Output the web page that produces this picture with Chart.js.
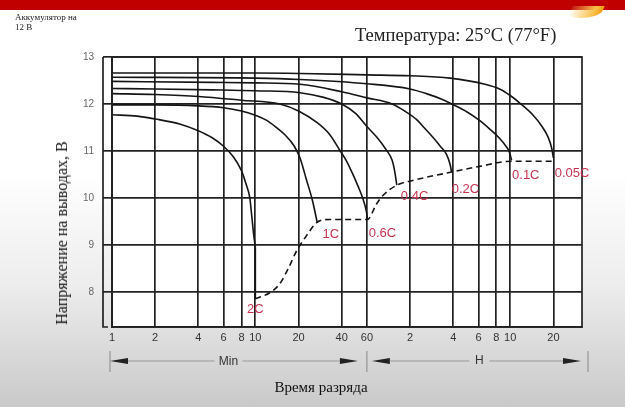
<!DOCTYPE html>
<html><head><meta charset="utf-8">
<script src="https://cdn.jsdelivr.net/npm/chart.js@4.4.0/dist/chart.umd.min.js"></script>
<style>
html,body{margin:0;padding:0;}
body{width:625px;height:407px;overflow:hidden;position:relative;
background:linear-gradient(180deg,#fff 0%,#fff 42%,#ededed 70%,#c9c9c9 100%);}
#band{position:absolute;left:0;top:0;width:625px;height:10px;background:#c00000;}
#swoosh{position:absolute;left:570px;top:6px;width:32px;height:12px;border-radius:0 0 60% 40%;
background:linear-gradient(90deg,rgba(255,240,190,0.1),#f8c04a 75%,#f39c12);transform:skewX(-25deg);}
#wrap{position:absolute;left:0;top:0;width:625px;height:407px;}
.hdr1{position:absolute;left:15px;top:12px;font:9px/10px "Liberation Serif",serif;color:#222;}
.hdr2{position:absolute;left:355px;top:25px;font:18.5px "Liberation Serif",serif;color:#222;white-space:nowrap;}
.ytitle{position:absolute;left:62px;top:233px;transform:translate(-50%,-50%) rotate(-90deg);font:16px "Liberation Serif",serif;color:#111;white-space:nowrap;}
.xtitle{position:absolute;left:321px;top:387px;transform:translate(-50%,-50%);font:15px "Liberation Serif",serif;color:#111;white-space:nowrap;}
</style></head>
<body>
<div id="band"></div>
<div id="swoosh"></div>
<div id="wrap"><canvas id="c" width="625" height="407"></canvas></div>
<div class="hdr1">Аккумулятор на<br>12 В</div>
<div class="hdr2">Температура: 25°C (77°F)</div>
<div class="ytitle">Напряжение на выводах, В</div>
<div class="xtitle">Время разряда</div>
<script>
// X axis ticks (discharge time in minutes) and their labels
const tickValues = [1,2,4,6,8,10,20,40,60,120,240,360,480,600,1200];
const tickLabels = ['1','2','4','6','8','10','20','40','60','2','4','6','8','10','20'];
const voltTicks = [8,9,10,11,12,13];

// Discharge curves: time (min) / voltage (V)
const t2C  = [1,1.5,2,3,4,5,6,7,8,8.6,9.15,9.45,9.75,10];
const v2C  = [11.77,11.74,11.68,11.57,11.43,11.28,11.1,10.88,10.58,10.3,10.0,9.6,9.2,8.95];
const t2Cdrop = [10,10];
const v2Cdrop = [8.95,7.85];
const t1C  = [1,2,4,6,8,10,12,14,16,18.7,20.5,22.8,25,27];
const v1C  = [11.98,11.98,11.96,11.92,11.85,11.76,11.65,11.5,11.35,11.1,10.85,10.37,9.95,9.48];
const t06C = [1,2,4,8,14.8,20,27,33,38.7,43,47.6,52,56,59.6,60.5];
const v06C = [12.22,12.2,12.16,12.08,12.0,11.85,11.6,11.35,11.02,10.8,10.52,10.25,10.0,9.7,9.54];
const t04C = [1,2,5,10,20.5,30,40,50,60,70,82,90,94,97];
const v04C = [12.33,12.32,12.3,12.28,12.24,12.14,12.0,11.8,11.52,11.3,11.02,10.8,10.55,10.27];
const t02C = [1,5,10,20.5,40,60,90,110,133,150,172,195,215,228,234];
const v02C = [12.48,12.46,12.45,12.42,12.26,12.13,12.0,11.85,11.67,11.5,11.3,11.1,10.93,10.72,10.55];
const t01C = [1,10,20.5,60,120,156,200,234,300,366,430,505,560,591,613];
const v01C = [12.57,12.55,12.52,12.43,12.32,12.22,12.1,12.0,11.83,11.65,11.47,11.27,11.1,10.98,10.8];
const t005C = [1,10,20.5,60,120,228,400,505,600,700,855,1000,1100,1170,1200];
const v005C = [12.66,12.66,12.65,12.62,12.6,12.55,12.42,12.32,12.18,12.02,11.78,11.52,11.3,11.05,10.85];
// End-of-discharge (dashed) line
const tEnd = [10,12.6,14.8,17,19.4,22.7,27,33,45,60.5,70,77,97,125,234,366,613,1230];
const vEnd = [7.85,7.98,8.17,8.5,8.87,9.19,9.48,9.54,9.54,9.54,9.87,10.04,10.27,10.37,10.55,10.67,10.78,10.78];

// Rate labels
const rateNames = ['2C','1C','0.6C','0.4C','0.2C','0.1C','0.05C'];
const labelT = [10, 33.6, 77, 129, 292, 770, 1620];
const labelV = [7.62, 9.22, 9.24, 10.04, 10.17, 10.48, 10.52];

const xy = (ts, vs) => ts.map((t, i) => ({x: t, y: vs[i]}));
const curve = (ts, vs) => ({data: xy(ts, vs), borderColor:'#151515', borderWidth:1.6, pointRadius:0,
  cubicInterpolationMode:'monotone', fill:false});

const datasets = [
  curve(t2C, v2C), Object.assign(curve(t2Cdrop, v2Cdrop), {cubicInterpolationMode:'default', tension:0}),
  curve(t1C, v1C), curve(t06C, v06C), curve(t04C, v04C),
  curve(t02C, v02C), curve(t01C, v01C), curve(t005C, v005C),
  Object.assign(curve(tEnd, vEnd), {borderDash:[6,4]})
];

const deco = {
  id:'deco',
  beforeDraw(chart){
    const {ctx, chartArea:a} = chart;
    ctx.save(); ctx.fillStyle = '#fff';
    ctx.fillRect(a.left, a.top, a.right-a.left, a.bottom-a.top);
    ctx.restore();
  },
  afterDraw(chart){
    const {ctx, chartArea:a, scales:{x, y}} = chart;
    ctx.save();
    // plot border
    ctx.strokeStyle = '#222'; ctx.lineWidth = 1.7;
    ctx.strokeRect(a.left, a.top, a.right-a.left, a.bottom-a.top);
    // y bracket line
    const bx = a.left - 9;
    ctx.beginPath(); ctx.moveTo(bx, y.getPixelForValue(13)); ctx.lineTo(bx, a.bottom);
    ctx.lineTo(bx+5, a.bottom); ctx.stroke();
    // rate labels
    ctx.fillStyle = '#c6334f'; ctx.font = '13px "Liberation Sans", Arial, sans-serif';
    ctx.textAlign = 'center'; ctx.textBaseline = 'middle';
    rateNames.forEach((n, i) => ctx.fillText(n, x.getPixelForValue(labelT[i]), y.getPixelForValue(labelV[i])));
    // time unit arrows
    const ay = a.bottom + 34;
    const p1 = x.getPixelForValue(1) - 2, p60 = x.getPixelForValue(60), pEnd = a.right + 6;
    ctx.strokeStyle = '#888'; ctx.lineWidth = 1;
    [p1, p60, pEnd].forEach(px => { ctx.beginPath(); ctx.moveTo(px, ay-10); ctx.lineTo(px, ay+11); ctx.stroke(); });
    const arrowL = (x0) => { ctx.beginPath(); ctx.moveTo(x0, ay); ctx.lineTo(x0+18, ay-3); ctx.lineTo(x0+18, ay+3); ctx.closePath(); ctx.fill(); };
    const arrowR = (x0) => { ctx.beginPath(); ctx.moveTo(x0, ay); ctx.lineTo(x0-18, ay-3); ctx.lineTo(x0-18, ay+3); ctx.closePath(); ctx.fill(); };
    ctx.fillStyle = '#222';
    arrowL(p1); arrowR(p60 - 9); arrowL(p60 + 5); arrowR(pEnd - 7);
    ctx.strokeStyle = '#999';
    const seg = (a1, a2) => { ctx.beginPath(); ctx.moveTo(a1, ay); ctx.lineTo(a2, ay); ctx.stroke(); };
    const minX = (p1 + p60) / 2 - 10, hX = (p60 + pEnd) / 2 + 2;
    seg(p1+18, minX-14); seg(minX+14, p60-27);
    seg(p60+23, hX-10); seg(hX+10, pEnd-25);
    ctx.fillStyle = '#333'; ctx.font = '12px "Liberation Sans", Arial, sans-serif';
    ctx.textAlign = 'center'; ctx.textBaseline = 'middle';
    ctx.fillText('Min', minX, ay + 1); ctx.fillText('H', hX, ay);
    ctx.restore();
  }
};

new Chart(document.getElementById('c'), {
  type:'line',
  data:{datasets},
  options:{
    responsive:false, animation:false, events:[],
    layout:{padding:{top:57, right:43, left:0, bottom:0}},
    plugins:{legend:{display:false}, tooltip:{enabled:false}},
    scales:{
      x:{type:'logarithmic', min:1, max:1900,
        afterBuildTicks:s => { s.ticks = tickValues.map(v => ({value:v})); },
        afterFit:s => { s.height = 80; },
        grid:{color:'#222', lineWidth:1.7, drawTicks:false},
        border:{color:'#222', width:1.7},
        ticks:{autoSkip:false, maxRotation:0, padding:4, color:'#333',
          font:{family:'"Liberation Sans", Arial, sans-serif', size:11},
          callback:(v, i) => tickLabels[i]}
      },
      y:{type:'linear', min:7.25, max:13,
        afterBuildTicks:s => { s.ticks = voltTicks.map(v => ({value:v})); },
        afterFit:s => { s.width = 112; },
        grid:{color:'#222', lineWidth:1.7, tickLength:9},
        border:{color:'#222', width:1.7},
        ticks:{padding:9, color:'#666', font:{family:'"Liberation Sans", Arial, sans-serif', size:10},
          callback:v => String(v)}
      }
    }
  },
  plugins:[deco]
});
</script>
</body></html>
